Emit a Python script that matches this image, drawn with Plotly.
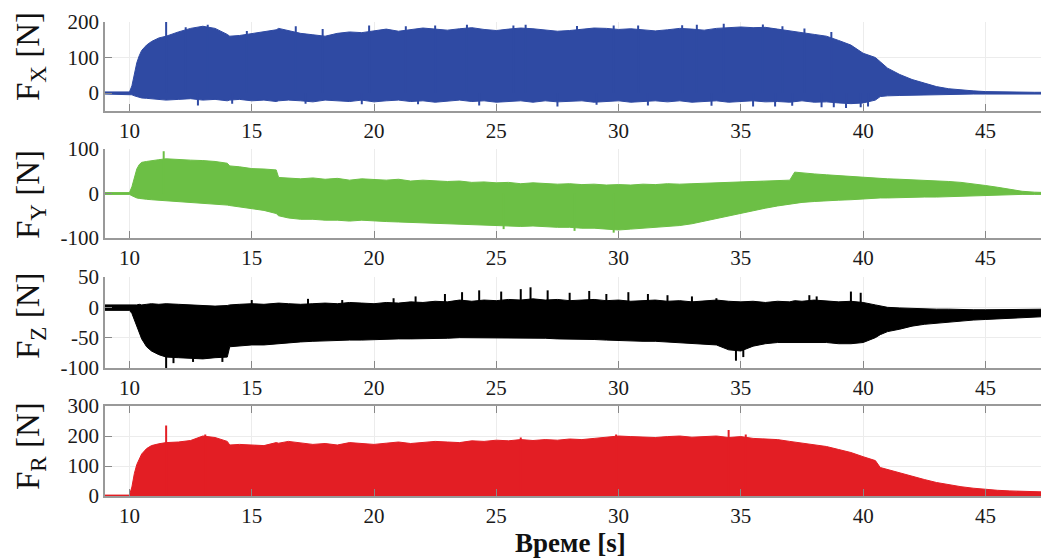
import plotly.graph_objects as go

# ---- time grid (s) ----
T = [9.0, 10.0, 10.1, 10.2, 10.3, 10.4, 10.5, 10.7, 10.9, 11.2,
     11.5, 12.0, 12.5, 13.0, 13.5, 14.0, 14.1, 14.5, 15.0, 15.5,
     16.0, 16.1, 16.5, 17.0, 17.5, 18.0, 18.5, 19.0, 19.5, 20.0,
     20.5, 21.0, 21.5, 22.0, 22.5, 23.0, 23.5, 24.0, 24.5, 25.0,
     25.5, 26.0, 26.5, 27.0, 27.5, 28.0, 28.5, 29.0, 29.5, 30.0,
     30.5, 31.0, 31.5, 32.0, 32.5, 33.0, 33.5, 34.0, 34.5, 35.0,
     35.5, 36.0, 36.5, 37.0, 37.2, 37.5, 38.0, 38.5, 39.0, 39.5,
     40.0, 40.5, 40.7, 41.0, 41.5, 42.0, 42.5, 43.0, 43.5, 44.0,
     44.5, 45.0, 45.5, 46.0, 46.5, 47.0, 47.5, 47.6]

# ---- Fx envelope (N) ----
FX_UP = [3, 3, 20, 55, 85, 105, 120, 135, 145, 155,
         160, 172, 182, 188, 182, 165, 160, 162, 168, 172,
         178, 182, 176, 168, 164, 160, 168, 172, 170, 176,
         180, 174, 178, 183, 180, 177, 181, 184, 179, 176,
         180, 183, 181, 178, 174, 176, 180, 183, 182, 179,
         181, 177, 175, 178, 182, 180, 177, 182, 185, 186,
         184, 185, 180, 174, 172, 170, 165, 160, 148, 135,
         112, 100, 88, 70, 52, 38, 28, 18, 12, 8,
         6, 4, 3, 3, 3, 2, 2, 2]
FX_LO = [-3, -3, -5, -8, -10, -12, -14, -15, -16, -18,
         -20, -18, -16, -20, -18, -22, -20, -18, -22, -20,
         -24, -22, -20, -22, -25, -20, -22, -24, -20, -25,
         -22, -20, -24, -22, -26, -22, -20, -24, -22, -26,
         -24, -22, -26, -22, -25, -24, -22, -26, -24, -22,
         -26, -24, -22, -25, -22, -26, -24, -22, -26, -24,
         -22, -25, -24, -26, -24, -22, -26, -25, -28, -30,
         -28, -20, -10, -8, -7, -6, -5, -5, -4, -4,
         -3, -3, -3, -3, -3, -3, -3, -3]
FX_SPIKE_T = [11.5, 12.3, 13.2, 14.8, 16.8, 17.9, 19.8, 21.3, 22.5, 23.8,
              25.7, 26.2, 28.3, 29.8, 30.8, 32.6, 33.2, 34.3, 35.9, 36.7,
              37.6, 38.7,
              12.8, 14.2, 17.2, 19.5, 21.8, 24.3, 27.5, 29.1, 31.2, 33.8,
              35.5, 36.4, 37.1, 38.3, 38.8, 39.3, 39.9, 40.2]
FX_SPIKE_V = [200, 185, 192, 175, 188, 180, 190, 188, 190, 192,
              190, 192, 189, 190, 190, 191, 192, 195, 193, 188,
              182, 172,
              -35, -30, -30, -32, -32, -35, -38, -33, -35, -36,
              -38, -38, -36, -40, -40, -42, -40, -38]

# ---- Fy envelope (N) ----
FY_UP = [2, 2, 15, 35, 55, 65, 70, 72, 74, 76,
         78, 76, 75, 74, 72, 68, 62, 60, 56, 55,
         53, 36, 34, 33, 35, 32, 34, 30, 33, 32,
         30, 32, 28, 30, 29, 27, 28, 25, 26, 24,
         25, 22, 24, 22, 21, 22, 20, 21, 19, 20,
         19, 21, 20, 22, 21, 22, 23, 24, 25, 26,
         27, 28, 28, 30, 48, 46, 44, 42, 40, 38,
         36, 35, 34, 33, 32, 31, 30, 28, 27, 25,
         22, 18, 14, 9, 5, 3, 2, 2]
FY_LO = [-2, -2, -5, -8, -10, -11, -12, -13, -14, -15,
         -17, -19, -20, -22, -24, -26, -27, -30, -33, -38,
         -45, -50, -55, -58, -58, -60, -60, -62, -60, -62,
         -63, -64, -65, -66, -66, -68, -68, -70, -70, -72,
         -72, -74, -73, -75, -76, -76, -78, -78, -80, -82,
         -80, -78, -76, -74, -72, -68, -62, -56, -50, -44,
         -38, -33, -28, -24, -22, -20, -18, -16, -15, -14,
         -12, -11, -10, -10, -9, -9, -8, -8, -7, -7,
         -6, -5, -4, -3, -2, -2, -2, -2]
FY_SPIKE_T = [11.4, 25.3, 28.2, 29.8]
FY_SPIKE_V = [95, -80, -84, -88]

# ---- Fz envelope (N) ----
FZ_UP = [4, 4, 3, 3, 4, 5, 4, 5, 6, 5,
         6, 5, 4, 3, 2, 3, 4, 5, 6, 5,
         6, 7, 6, 5, 6, 7, 6, 8, 7, 6,
         8, 7, 9, 8, 10, 9, 12, 10, 12, 11,
         13, 12, 14, 12, 13, 11, 12, 13, 11, 12,
         10, 11, 12, 10, 11, 9, 10, 12, 10, 9,
         10, 8, 10, 9, 11, 10, 12, 10, 9, 10,
         8, 4, 2, 0, -1, -2, -2, -3, -3, -4,
         -4, -4, -4, -4, -3, -3, -3, -3]
FZ_LO = [-5, -5, -10, -20, -30, -42, -52, -65, -72, -78,
         -82, -83, -84, -85, -83, -82, -65, -64, -62, -62,
         -60, -60, -58, -57, -56, -55, -55, -54, -54, -53,
         -53, -52, -52, -52, -51, -51, -50, -50, -50, -50,
         -50, -50, -51, -51, -52, -52, -53, -53, -54, -55,
         -55, -56, -56, -57, -58, -60, -60, -62, -70, -72,
         -64, -60, -58, -58, -58, -58, -58, -58, -60, -60,
         -58, -50, -45, -40, -36, -31, -28, -26, -24, -22,
         -21, -20, -19, -18, -17, -16, -15, -15]
FZ_SPIKE_T = [15.0, 17.3, 18.7, 20.8, 21.7, 22.9, 23.6, 24.3, 25.2, 26.0,
              26.4, 27.1, 28.0, 28.8, 29.5, 30.4, 31.2, 32.0, 33.0, 34.0,
              37.8, 38.1, 39.5, 39.9,
              11.5, 11.8, 12.6, 13.8, 34.8, 35.1]
FZ_SPIKE_V = [12, 14, 12, 15, 18, 22, 25, 28, 26, 30,
              33, 28, 24, 27, 22, 25, 22, 20, 18, 15,
              20, 18, 26, 24,
              -100, -92, -90, -90, -88, -82]

# ---- Fr envelope (N) ----
FR_UP = [3, 3, 30, 75, 105, 125, 140, 158, 168, 174,
         178, 180, 185, 200, 195, 182, 170, 172, 170, 168,
         178, 176, 182, 178, 172, 175, 170, 178, 175, 172,
         176, 180, 175, 178, 182, 180, 178, 184, 182, 186,
         184, 188, 185, 188, 186, 190, 188, 192, 195, 200,
         198, 196, 195, 198, 200, 196, 198, 200, 195, 198,
         192, 190, 188, 182, 180, 177, 172, 165, 155, 145,
         131, 118, 95, 88, 78, 65, 55, 45, 37, 31,
         26, 22, 19, 17, 15, 14, 13, 13]
FR_SPIKE_T = [11.5, 13.1, 26.0, 29.9, 34.5, 35.2]
FR_SPIKE_V = [235, 205, 195, 205, 220, 205]

X_TICKS = [10, 15, 20, 25, 30, 35, 40, 45]
Y_TICKS = [[0, 100, 200], [-100, 0, 100], [-100, -50, 0, 50], [0, 100, 200, 300]]
Y_TICKTEXT = [["0", "100", "200"], ["-100", "0", "100"], ["-100", "-50", "0", "50"],
              ["0", "100", "200", "300"]]
Y_RANGES = [[-50, 200], [-100, 100], [-100, 50], [0, 300]]
Y_LABELS = ["F<sub>X</sub> [N]", "F<sub>Y</sub> [N]", "F<sub>Z</sub> [N]", "F<sub>R</sub> [N]"]
COLORS = ["#2f4aa3", "#6cbf45", "#000000", "#e31e24"]

# page has an 8px body margin: figure is drawn offset by (8, 8)
OFF = 8
W, H = 1049 - OFF, 560 - OFF
# page-pixel extents of each plot area (top, bottom)
PIX = [(22, 110.75), (149, 238), (277, 368), (406, 496)]
LABEL_CY = [57, 195, 316, 446]

def px_x(p):
    return (p - OFF) / W

def px_y(p):
    return 1 - (p - OFF) / H

fig = go.Figure()

def spikes(ts, vs):
    xs, ys = [], []
    for t, v in zip(ts, vs):
        xs += [t, t, None]
        ys += [0, v, None]
    return xs, ys

series = [
    (FX_UP, FX_LO, FX_SPIKE_T, FX_SPIKE_V),
    (FY_UP, FY_LO, FY_SPIKE_T, FY_SPIKE_V),
    (FZ_UP, FZ_LO, FZ_SPIKE_T, FZ_SPIKE_V),
    (FR_UP, None, FR_SPIKE_T, FR_SPIKE_V),
]

for i, (up, lo, st, sv) in enumerate(series):
    n = "" if i == 0 else str(i + 1)
    xa, ya = "x" + n, "y" + n
    c = COLORS[i]
    if lo is not None:
        fig.add_trace(go.Scatter(x=T, y=lo, mode="lines", line=dict(color=c, width=1),
                                 xaxis=xa, yaxis=ya, showlegend=False, hoverinfo="skip"))
        fig.add_trace(go.Scatter(x=T, y=up, mode="lines", line=dict(color=c, width=1),
                                 fill="tonexty", fillcolor=c,
                                 xaxis=xa, yaxis=ya, showlegend=False, hoverinfo="skip"))
    else:
        fig.add_trace(go.Scatter(x=T, y=up, mode="lines", line=dict(color=c, width=1),
                                 fill="tozeroy", fillcolor=c,
                                 xaxis=xa, yaxis=ya, showlegend=False, hoverinfo="skip"))
    sx, sy = spikes(st, sv)
    fig.add_trace(go.Scatter(x=sx, y=sy, mode="lines", line=dict(color=c, width=2),
                             xaxis=xa, yaxis=ya, showlegend=False, hoverinfo="skip"))

SERIF = "Liberation Serif, Times New Roman, serif"
tickfont = dict(family=SERIF, size=21, color="#1a1a1a")
layout = dict(
    width=W, height=H, paper_bgcolor="white", plot_bgcolor="white",
    margin=dict(l=0, r=0, t=0, b=0, pad=0, autoexpand=False), showlegend=False,
    font=dict(family=SERIF),
)
for i in range(4):
    n = "" if i == 0 else str(i + 1)
    top, bot = PIX[i]
    layout["xaxis" + n] = dict(
        domain=[px_x(105), 1.0], range=[9, 47.6], anchor="y" + n, automargin=False,
        tickvals=X_TICKS, ticks="inside", ticklen=7, tickcolor="#888", tickwidth=1,
        showline=True, linecolor="#999", linewidth=1.5,
        mirror=("ticks" if i == 3 else False),
        showgrid=True, gridcolor="#ececec", gridwidth=1, zeroline=False,
        tickfont=tickfont,
    )
    layout["yaxis" + n] = dict(
        domain=[px_y(bot), px_y(top)], range=Y_RANGES[i], anchor="x" + n, automargin=False,
        tickvals=Y_TICKS[i], ticktext=Y_TICKTEXT[i], ticks="inside", ticklen=7, tickcolor="#888",
        showline=True, linecolor="#999", linewidth=1.5,
        showgrid=True, gridcolor="#ececec", gridwidth=1, zeroline=False,
        tickfont=tickfont,
    )
fig.update_layout(**layout)

for i in range(4):
    fig.add_annotation(text=Y_LABELS[i], textangle=-90, xref="paper", yref="paper",
                       x=px_x(30), y=px_y(LABEL_CY[i]), showarrow=False,
                       xanchor="center", yanchor="middle",
                       font=dict(family=SERIF, size=33, color="#111"))

fig.add_annotation(text="<b>Време [s]</b>", xref="paper", yref="paper",
                   x=px_x(570), y=px_y(543), showarrow=False, xanchor="center", yanchor="middle",
                   font=dict(family=SERIF, size=27, color="#111"))

fig.write_html("out.html")
